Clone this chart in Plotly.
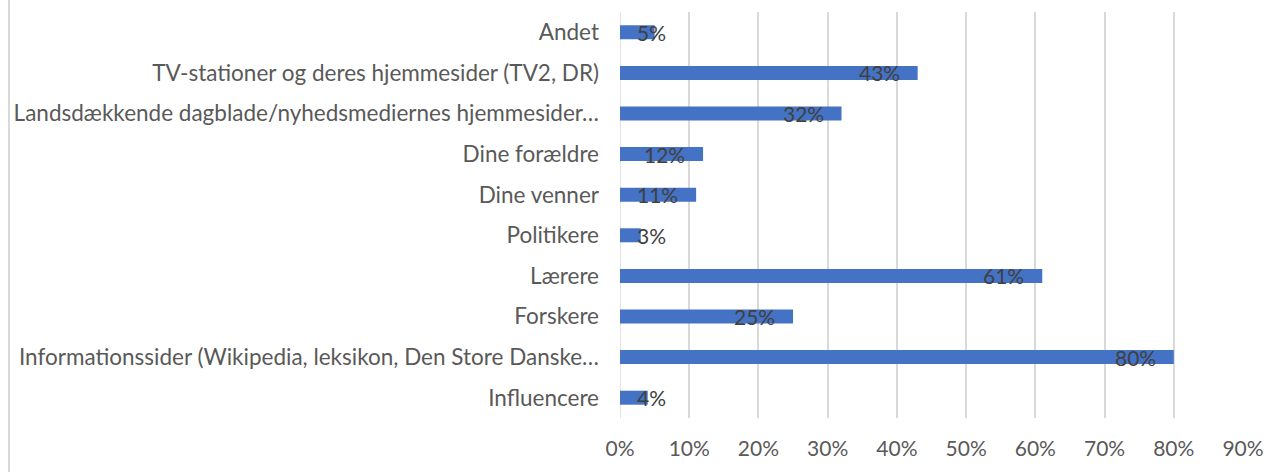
import plotly.graph_objects as go

categories = [
    "Influencere",
    "Informationssider (Wikipedia, leksikon, Den Store Danske…",
    "Forskere",
    "Lærere",
    "Politikere",
    "Dine venner",
    "Dine forældre",
    "Landsdækkende dagblade/nyhedsmediernes hjemmesider…",
    "TV-stationer og deres hjemmesider (TV2, DR)",
    "Andet",
]
values = [4, 80, 25, 61, 3, 11, 12, 32, 43, 5]
x_ticks = [0, 10, 20, 30, 40, 50, 60, 70, 80, 90]
x_tick_labels = [f"{v}%" for v in x_ticks]

W, H = 1284, 472
L, R, T, B = 620, W - 1243, 12, H - 418
FONT = "Lato"

fig = go.Figure(go.Bar(
    x=values, y=categories, orientation="h",
    marker=dict(color="#4472C4", line=dict(width=0)),
    width=0.345, hoverinfo="skip",
))

for c, v in zip(categories, values):
    fits = v >= 10
    fig.add_annotation(
        x=v if fits else 0, y=c, xref="x", yref="y",
        text=f"{v}%", showarrow=False,
        xanchor="right" if fits else "left",
        xshift=-16 if fits else 15,
        font=dict(family=FONT, size=21, color="#404040"),
    )

# left border line of chart frame
fig.add_shape(type="line", xref="paper", yref="paper",
              x0=(9 - L) / (W - L - R), x1=(9 - L) / (W - L - R),
              y0=-B / (H - T - B), y1=(H - T) / (H - T - B) + 0.1,
              line=dict(color="#d9d9d9", width=2))

fig.update_layout(
    width=W, height=H,
    margin=dict(l=L, r=R, t=T, b=B),
    plot_bgcolor="white", paper_bgcolor="white",
    showlegend=False,
    font=dict(family=FONT, size=21, color="#595959"),
    xaxis=dict(range=[0, 90], tickvals=x_ticks, ticktext=x_tick_labels,
               showgrid=True, gridcolor="#d9d9d9", gridwidth=1.5,
               zeroline=False, showline=False, ticks="",
               ticklabelstandoff=16,
               tickfont=dict(family=FONT, size=21, color="#595959"),
               fixedrange=True),
    yaxis=dict(categoryorder="array", categoryarray=categories,
               showgrid=False, zeroline=False, showline=False, ticks="",
               ticklabelstandoff=20,
               tickfont=dict(family=FONT, size=22.5, color="#595959"),
               fixedrange=True),
)
fig.add_shape(type="line", xref="x", yref="paper", x0=0, x1=0, y0=0, y1=1,
              line=dict(color="#d9d9d9", width=1.5), layer="below")

fig.write_html("out.html")
